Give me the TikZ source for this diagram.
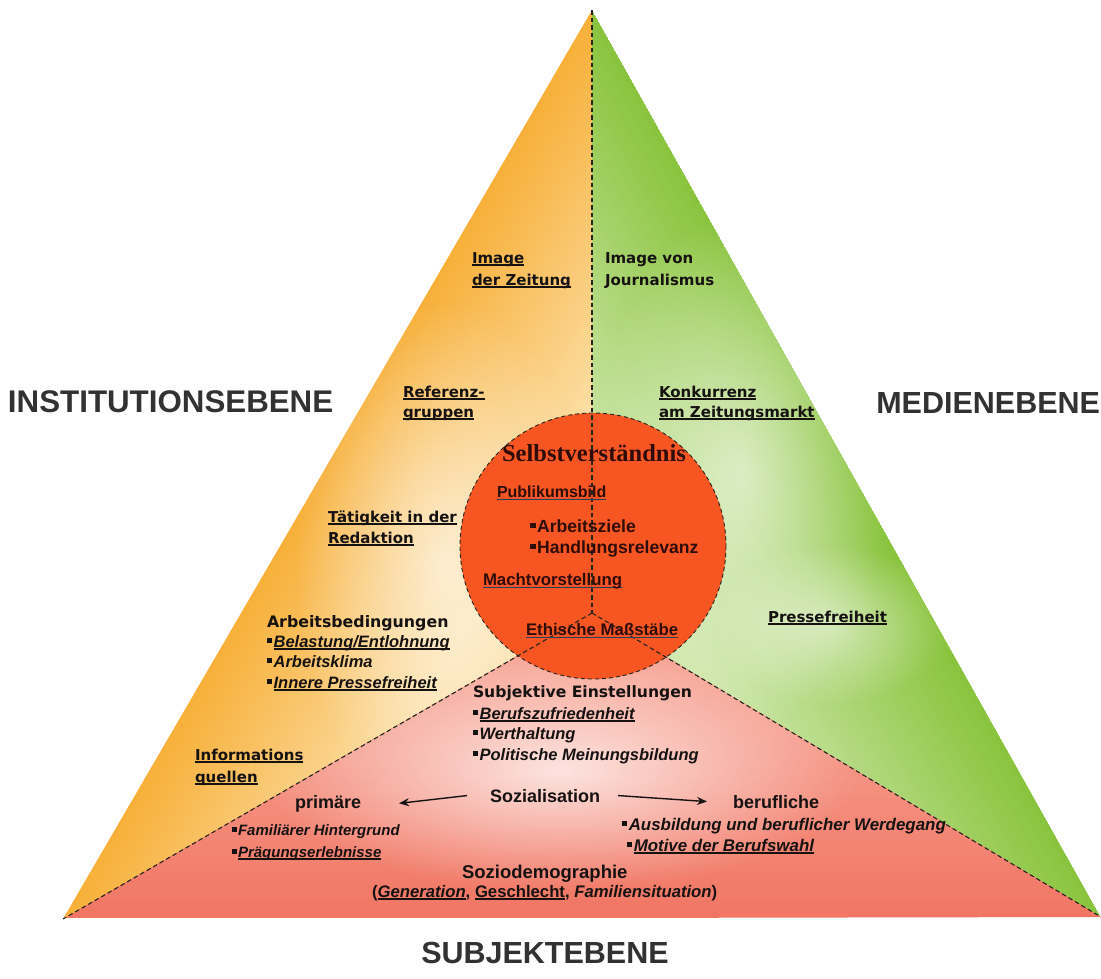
\documentclass[tikz,border=0pt]{standalone}
\usepackage{fontspec}
\setmainfont{Liberation Sans}
\newfontfamily\dvs{DejaVu Sans}
\newfontfamily\lserif{Liberation Serif}
\usetikzlibrary{arrows.meta,fadings,calc}

\definecolor{orE}{RGB}{247,176,58}
\definecolor{orI}{RGB}{252,222,165}
\definecolor{grE}{RGB}{138,196,62}
\definecolor{grI}{RGB}{204,230,168}
\definecolor{pkE}{RGB}{241,118,100}
\definecolor{pkI}{RGB}{247,165,150}
\definecolor{circ}{RGB}{247,86,34}
\definecolor{lvl}{RGB}{50,50,52}
\definecolor{txt}{RGB}{22,18,18}
\definecolor{ctxt}{RGB}{48,12,8}
\definecolor{culc}{RGB}{40,60,92}
\definecolor{dsh}{RGB}{40,35,30}

\tikzfading[name=glow, inner color=transparent!0, outer color=transparent!100]

\newcommand\fs[1]{\fontsize{#1}{#1}\selectfont}
\newsavebox\ulbox
\newcommand\ul[1]{\sbox\ulbox{#1}\rlap{\rule[-2.6pt]{\wd\ulbox}{1.2pt}}\usebox\ulbox}
\newcommand\cul[1]{\sbox\ulbox{#1}\rlap{\textcolor{culc}{\rule[-3.4pt]{\wd\ulbox}{1.6pt}}}\usebox\ulbox}
\newcommand\bul{\rule[0.22em]{0.32em}{0.32em}\hspace{0.08em}}

\tikzset{
  lb/.style={anchor=base west, inner sep=0pt, outer sep=0pt, text=txt, font=\dvs\bfseries\fs{15}},
  ar/.style={anchor=base west, inner sep=0pt, outer sep=0pt, text=txt, font=\bfseries\fs{18}},
  bi/.style={anchor=base west, inner sep=0pt, outer sep=0pt, text=txt, font=\bfseries\itshape\fs{16.5}},
  cl/.style={anchor=base west, inner sep=0pt, outer sep=0pt, text=ctxt, font=\bfseries\fs{16.8}},
  level/.style={inner sep=0pt, outer sep=0pt, text=lvl, font=\bfseries\fs{30.5}},
  sep/.style={draw=dsh, line width=1.1pt, dash pattern=on 4.5pt off 3pt},
  arr/.style={-{Stealth[length=10pt,width=8pt]}, line width=1.4pt, draw=txt},
}

\begin{document}
\begin{tikzpicture}[x=1pt,y=-1pt]
\useasboundingbox (0,0) rectangle (1101,978);
\clip (0,0) rectangle (1101,978);

\coordinate (A) at (592,10);
\coordinate (J) at (592,613);
\coordinate (L) at (63,919);
\coordinate (R) at (1101,917);
\coordinate (O) at (593,546);

% ---- left region (Institutionsebene)
\begin{scope}
\clip (A)--(J)--(L)--cycle;
\foreach \i in {0,...,40}{
  \pgfmathsetmacro\t{\i*5}
  \pgfmathsetmacro\pc{100-\i*2.5}
  \pgfmathsetmacro\px{592+\t*0.864}
  \pgfmathsetmacro\py{10+\t*0.503}
  \fill[orE!\pc!orI] (\px+603.6,\py-1036.8) -- (\px-603.6,\py+1036.8)
     -- (\px-603.6+1728,\py+1036.8+1006) -- (\px+603.6+1728,\py-1036.8+1006) -- cycle;
}
\fill[white, fill opacity=0.6, path fading=glow] (445,560) ellipse (150 and 260);
\end{scope}

% ---- right region (Medienebene)
\begin{scope}
\clip (A)--(R)--(J)--cycle;
\foreach \i in {0,...,40}{
  \pgfmathsetmacro\t{\i*5.5}
  \pgfmathsetmacro\pc{100-\i*2.5}
  \pgfmathsetmacro\px{592-\t*0.872}
  \pgfmathsetmacro\py{10+\t*0.489}
  \fill[grE!\pc!grI] (\px-586.8,\py-1046.4) -- (\px+586.8,\py+1046.4)
     -- (\px+586.8-1744,\py+1046.4+978) -- (\px-586.8-1744,\py-1046.4+978) -- cycle;
}
\fill[white, fill opacity=0.6, path fading=glow] (740,470) ellipse (150 and 260);
\fill[white, fill opacity=0.5, path fading=glow] (830,625) ellipse (120 and 80);
\end{scope}

% ---- bottom region (Subjektebene)
\begin{scope}
\clip (L)--(J)--(R)--cycle;
\foreach \i in {0,...,40}{
  \pgfmathsetmacro\t{\i*6}
  \pgfmathsetmacro\pc{100-\i*2.5}
  \pgfmathsetmacro\py{918-\t}
  \fill[pkE!\pc!pkI] (-100,\py) rectangle (1300,-600);
}
\fill[white, fill opacity=0.75, path fading=glow] (560,770) ellipse (300 and 120);
\end{scope}

% ---- central circle
\fill[circ] (O) circle (133);
\draw[draw=dsh, line width=0.9pt, dash pattern=on 4pt off 3pt] (O) circle (133);

% ---- separating dashed lines
\draw[sep] (A) -- (J);
\draw[sep] (J) -- (L);
\draw[sep] (J) -- (R);

% ---- level titles
\node[level, anchor=base west, font=\bfseries\fs{31.3}] (inst) at (8,412) {INSTITUTIONSEBENE};
\node[level, anchor=base east] (med) at (1100,413) {MEDIENEBENE};
\node[level, anchor=base] (subj) at (545,963) {SUBJEKTEBENE};

% ---- Institutionsebene
\node[lb] (iz1) at (472,263) {\ul{Image}};
\node[lb] (iz2) at (472,285) {\ul{der Zeitung}};
\node[lb] (rg1) at (403,397) {\ul{Referenz-}};
\node[lb] (rg2) at (403,417) {\ul{gruppen}};
\node[lb] (tr1) at (328,522) {\ul{Tätigkeit in der}};
\node[lb] (tr2) at (328,543) {\ul{Redaktion}};
\node[lb, font=\dvs\bfseries\fs{15.8}] (ab) at (267,627) {Arbeitsbedingungen};
\node[bi] (ab1) at (267,647) {\bul\ul{Belastung/Entlohnung}};
\node[bi] (ab2) at (267,667) {\bul Arbeitsklima};
\node[bi] (ab3) at (267,688) {\bul\ul{Innere Pressefreiheit}};
\node[lb] (iq1) at (195,760) {\ul{Informations}};
\node[lb] (iq2) at (195,782) {\ul{quellen}};

% ---- Medienebene
\node[lb] (ij1) at (605,263) {Image von};
\node[lb] (ij2) at (605,285) {Journalismus};
\node[lb] (kz1) at (659,397) {\ul{Konkurrenz}};
\node[lb] (kz2) at (659,417) {\ul{am Zeitungsmarkt}};
\node[lb] (pf) at (768,622) {\ul{Pressefreiheit}};

% ---- Selbstverstaendnis (circle)
\node[anchor=base, inner sep=0pt, text=ctxt, font=\lserif\bfseries\fs{24.5}] (sv) at (594,461) {Selbstverständnis};
\node[cl, font=\bfseries\fs{16}] (pb) at (497,497) {\cul{Publikumsbild}};
\node[cl, font=\bfseries\fs{17.6}] (az) at (530,532) {\bul Arbeitsziele};
\node[cl, font=\bfseries\fs{17.6}] (hr) at (530,553) {\bul Handlungsrelevanz};
\node[cl] (mv) at (483,585) {\cul{Machtvorstellung}};
\node[cl] (em) at (526,635) {\cul{Ethische Maßstäbe}};

% ---- Subjektebene
\node[lb, font=\dvs\bfseries\fs{15.6}] (se) at (473,697) {Subjektive Einstellungen};
\node[bi] (se1) at (473,719) {\bul\ul{Berufszufriedenheit}};
\node[bi] (se2) at (473,739) {\bul Werthaltung};
\node[bi] (se3) at (473,760) {\bul Politische Meinungsbildung};

\node[ar] (soz) at (490,802) {Sozialisation};
\node[ar] (prim) at (295,808) {primäre};
\node[ar] (beruf) at (733,808) {berufliche};
\draw[arr] ([xshift=-23pt]soz.west) -- ([xshift=38pt]prim.east);
\draw[arr] ([xshift=18pt]soz.east) -- ([xshift=-26pt]beruf.west);

\node[bi, font=\bfseries\itshape\fs{15}] (pr1) at (232,835) {\bul Familiärer Hintergrund};
\node[bi, font=\bfseries\itshape\fs{15}] (pr2) at (232,857) {\bul\ul{Prägungserlebnisse}};
\node[bi, font=\bfseries\itshape\fs{16.9}] (bf1) at (622,830) {\bul Ausbildung und beruflicher Werdegang};
\node[bi, font=\bfseries\itshape\fs{16.9}] (bf2) at (627,851) {\bul\ul{Motive der Berufswahl}};

\node[ar, font=\bfseries\fs{18.5}] (sd) at (462,878) {Soziodemographie};
\node[ar, font=\bfseries\fs{16.7}] (sd2) at (372,897) {({\itshape\ul{Generation}}, \ul{Geschlecht}, {\itshape Familiensituation})};
\end{tikzpicture}
\end{document}
